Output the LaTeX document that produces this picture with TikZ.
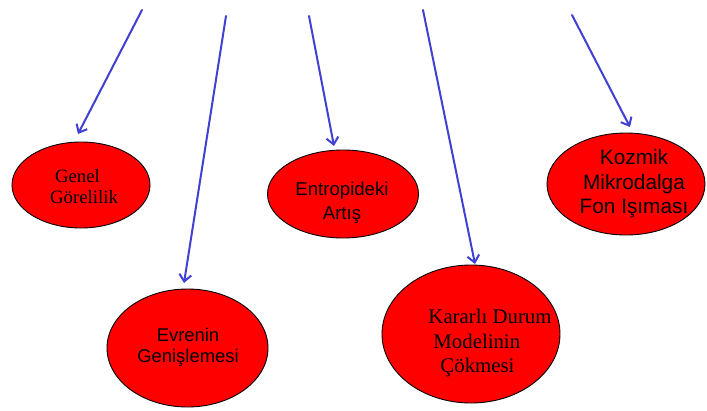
\documentclass[tikz,border=0pt]{standalone}
\usepackage{fontspec}
\setmainfont{Liberation Serif}
\newfontfamily\arialf{Liberation Sans}
\usetikzlibrary{shapes.geometric,arrows.meta}
\definecolor{arrblue}{RGB}{64,64,210}
\definecolor{ellred}{RGB}{255,0,0}
\tikzset{
  ell/.style={ellipse, draw=black, line width=0.9pt, fill=ellred, inner sep=0pt},
  txt/.style={inner sep=0pt, text=black},
  arr/.style={draw=arrblue, line width=2pt, line cap=round, -{Straight Barb[length=7pt,width=12pt,line width=2pt]}}
}
\begin{document}
\begin{tikzpicture}[x=1pt,y=-1pt]
\useasboundingbox[fill=white] (0,0) rectangle (707,410);
% ellipses
\node[ell, minimum width=138pt, minimum height=86pt] (e1) at (81,185) {};
\node[ell, minimum width=151pt, minimum height=88pt] (e2) at (343,194) {};
\node[ell, minimum width=158pt, minimum height=102pt] (e3) at (626,184) {};
\node[ell, minimum width=161pt, minimum height=118pt] (e4) at (187.5,348) {};
\node[ell, minimum width=178pt, minimum height=138pt] (e5) at (471,334) {};
% texts
\node[txt, align=left, font={\fontsize{18.8}{21}\selectfont}] (t1) at (84,187) {\hspace*{5pt}Genel\\Görelilik};
\node[txt, align=center, font={\arialf\fontsize{18.6}{24}\selectfont}] (t2) at (342,203) {Entropideki\\Artış};
\node[txt, align=center, font={\arialf\fontsize{20.8}{24.5}\selectfont}] (t3) at (634,184) {Kozmik\\Mikrodalga\\Fon Işıması};
\node[txt, align=center, font={\arialf\fontsize{18.4}{20.7}\selectfont}] (t4) at (188,347) {Evrenin\\Genişlemesi};
\node[txt, align=left, font={\fontsize{20.8}{24.5}\selectfont}] (t5) at (490,343) {Kararlı Durum\\\hspace*{5pt}Modelinin\\\hspace*{12pt}Çökmesi};
% arrow ends
\coordinate (s1) at (142,10);  \coordinate (p1) at (78,134);
\coordinate (s2) at (226,16);  \coordinate (p2) at (184,283);
\coordinate (s3) at (309,16);  \coordinate (p3) at (334,146);
\coordinate (s4) at (423,10);  \coordinate (p4) at (475,264);
\coordinate (s5) at (572,15);  \coordinate (p5) at (630,127);
\draw[arr] (s1) -- (p1);
\draw[arr] (s2) -- (p2);
\draw[arr] (s3) -- (p3);
\draw[arr] (s4) -- (p4);
\draw[arr] (s5) -- (p5);
\end{tikzpicture}
\end{document}
